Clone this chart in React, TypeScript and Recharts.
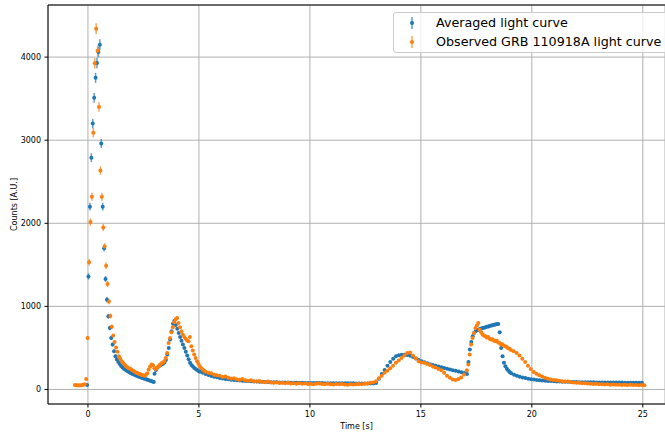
import { ScatterChart, Scatter, XAxis, YAxis, CartesianGrid, ErrorBar, ReferenceLine } from "recharts";

type Segment = { start: number; step: number; counts: number[]; err?: number[] };

// averaged light curve (time bins of 64 ms / 128 ms)
const avgPulse1 = [
  55, 1360, 2200, 2790, 3200, 3510, 3750, 3930, 4060, 4150, 2960, 2200, 1700, 1330, 1080, 880, 740, 620, 540, 460,
  400, 360, 330, 305, 283, 265, 250, 238, 226, 215, 205, 196, 187, 179, 171, 164, 157, 150, 144, 138,
  132, 126, 120, 114, 108, 102, 96, 90,
];
const avgPulse1Err = [8, 37, 47, 53, 57, 59, 61, 63, 64, 64, 54, 47, 41, 36, 33, 30, 27, 25, 23, 21, 20];
const avgPulse2 = [
  190, 235, 262, 280, 292, 300, 310, 325, 355, 420, 500, 600, 700, 790, 828, 775, 730, 680, 630, 585,
  540, 500, 455, 410, 365, 320, 295, 275, 258, 245, 233, 222,
];
const avgTail2 = [
  214, 200, 185, 173, 163, 154, 146, 139, 133, 127, 122, 118, 114, 111, 108, 105, 103, 101, 99, 97,
  95, 93, 92, 90, 89, 88, 87, 86, 85, 84, 83, 83, 82, 81, 81, 80, 80, 79, 79, 78,
  78, 77, 77, 77, 76, 76, 76, 75, 75, 75, 75, 74, 74, 74, 74, 73, 73, 73, 73, 72, 72, 72,
];
const avgPulse3 = [
  78, 130, 185, 235, 285, 330, 370, 400, 413, 418, 418, 415, 405, 390, 372, 355, 340, 327, 315, 304,
  294, 285, 275, 266, 257, 248, 240, 232, 224, 216, 208, 198, 185,
];
const avgPulse4 = [
  330, 480, 570, 640, 680, 700, 712, 720, 727, 733, 739, 744, 749, 754, 759, 764, 769, 774, 779, 783,
  787, 789, 690, 500, 400, 320, 280, 250, 228, 210,
];
const avgTail4 = [
  195, 178, 165, 154, 145, 137, 130, 124, 119, 115, 111, 108, 105, 103, 101, 99, 97, 96, 94, 93,
  92, 91, 90, 89, 88, 88, 87, 87, 86, 86, 85, 85, 85, 84, 84, 84, 83, 83, 83, 83,
  82, 82, 82, 82, 82, 81, 81,
];

// observed GRB 110918A light curve
const obsPulse1 = [
  55, 52, 50, 48, 52, 50, 57, 62, 125, 620, 1530, 2015, 2320, 3090, 3925, 4340, 4075, 3400, 2635, 2320,
  1950, 1720, 1490, 1270, 1060, 885, 755, 650, 570, 505, 455, 400, 370, 340, 318, 300, 280, 268, 255, 250,
  238, 225, 215, 205, 198, 190, 185, 175, 170, 165, 175, 195, 240, 275, 300, 290, 255, 245, 265, 280,
  300, 315, 325, 340, 380, 440, 560, 620, 690, 750, 810, 845, 860, 800, 750, 700, 660, 630, 610, 590,
  580, 630, 520, 470, 420, 380, 340, 305, 280, 255, 240, 225,
];
const obsPulse1Err = [
  7, 7, 7, 7, 7, 7, 8, 8, 11, 25, 39, 45, 48, 56, 63, 66, 64, 58, 51, 48, 44, 41, 39, 36, 33, 30, 27,
];
const obsTail1 = [
  212, 200, 195, 178, 170, 165, 150, 155, 140, 132, 135, 122, 118, 125, 110, 105, 112, 100, 95, 102,
  90, 88, 95, 85, 82, 88, 78, 80, 75, 82, 72, 76, 70, 74, 68, 72, 66, 70, 64, 68,
  72, 65, 62, 68, 64, 60, 66, 62, 65, 60, 58, 64, 60, 62, 66, 64, 70, 72, 80, 85,
];
const obsPulse3 = [
  100, 135, 165, 200, 225, 255, 285, 320, 350, 380, 410, 440, 445, 410, 375, 340, 325, 320, 305, 295,
  275, 265, 245, 230, 200, 165, 140, 120, 115, 125, 145, 180, 230,
];
const obsPulse4 = [
  300, 420, 540, 620, 680, 740, 770, 800, 720, 690, 660, 650, 640, 625, 630, 610, 600, 605, 590, 580,
  585, 565, 560, 540, 545, 525, 520, 510, 495, 490,
];
const obsTail4 = [
  475, 460, 440, 410, 370, 330, 285, 245, 210, 190, 170, 155, 140, 130, 120, 115, 112, 105, 100, 95,
  96, 90, 85, 82, 80, 76, 75, 72, 70, 66, 68, 64, 62, 60, 63, 58, 60, 56, 58, 55,
  57, 54, 56, 53, 55, 52, 54, 50,
];

const averagedSegments: Segment[] = [
  { start: -0.04, step: 0.064, counts: avgPulse1, err: avgPulse1Err },
  { start: 3.0, step: 0.064, counts: avgPulse2 },
  { start: 5.048, step: 0.128, counts: avgTail2 },
  { start: 12.984, step: 0.128, counts: avgPulse3 },
  { start: 17.144, step: 0.064, counts: avgPulse4 },
  { start: 19.07, step: 0.128, counts: avgTail4 },
];

const observedSegments: Segment[] = [
  { start: -0.59, step: 0.064, counts: obsPulse1, err: obsPulse1Err },
  { start: 5.298, step: 0.128, counts: obsTail1 },
  { start: 12.978, step: 0.128, counts: obsPulse3 },
  { start: 17.138, step: 0.064, counts: obsPulse4 },
  { start: 19.058, step: 0.128, counts: obsTail4 },
];

const xTicks = [0, 5, 10, 15, 20, 25];
const yTicks = [0, 1000, 2000, 3000, 4000];

const BLUE = "#1f77b4";
const ORANGE = "#ff7f0e";
const FONT = "DejaVu Sans";
const Y_MAX = 4627;

function toPoints(segments: Segment[]) {
  const pts: { t: number; counts: number; err: number }[] = [];
  segments.forEach((s) => {
    s.counts.forEach((c, i) => {
      pts.push({ t: +(s.start + i * s.step).toFixed(3), counts: c, err: s.err?.[i] ?? 0 });
    });
  });
  return pts;
}

const dot = (color: string) => (p: any) => <circle cx={p.cx} cy={p.cy} r={2} fill={color} />;

function LegendMarker({ color }: { color: string }) {
  return (
    <svg width={10} height={14} style={{ display: "block" }}>
      <line x1={5} y1={1} x2={5} y2={13} stroke={color} strokeWidth={1.5} strokeOpacity={0.7} />
      <circle cx={5} cy={7} r={2} fill={color} />
    </svg>
  );
}

export default function App() {
  const averaged = toPoints(averagedSegments);
  const observed = toPoints(observedSegments);
  const tickStyle = { fontSize: 8, fill: "#000", fontFamily: FONT };

  return (
    <div style={{ position: "absolute", left: 0, top: 0, width: 665, height: 432, background: "#fff", fontFamily: FONT }}>
      <ScatterChart width={665} height={432} margin={{ top: 5, right: 0, bottom: 0, left: 0 }}>
        <CartesianGrid stroke="#b0b0b0" strokeWidth={1} />
        <XAxis
          type="number"
          dataKey="t"
          domain={[-1.8, 26]}
          ticks={xTicks}
          allowDataOverflow
          height={28}
          tickSize={3.5}
          tickMargin={3.5}
          tick={tickStyle}
          stroke="#000"
          label={{ value: "Time [s]", position: "insideBottom", offset: 3, style: { fontSize: 8, fill: "#000", fontFamily: FONT } }}
        />
        <YAxis
          type="number"
          dataKey="counts"
          domain={[-175, Y_MAX]}
          ticks={yTicks}
          allowDataOverflow
          width={48}
          tickSize={3.5}
          tickMargin={3.5}
          tick={tickStyle}
          stroke="#000"
          label={{
            value: "Counts [A.U.]",
            angle: -90,
            position: "insideLeft",
            offset: 14,
            style: { fontSize: 8, fill: "#000", fontFamily: FONT, textAnchor: "middle" },
          }}
        />
        <ReferenceLine y={Y_MAX} stroke="#000" strokeWidth={1} />
        <Scatter name="Averaged light curve" data={averaged} shape={dot(BLUE)} isAnimationActive={false}>
          <ErrorBar dataKey="err" direction="y" width={0} stroke={BLUE} strokeWidth={1.5} strokeOpacity={0.7} />
        </Scatter>
        <Scatter name="Observed GRB 110918A light curve" data={observed} shape={dot(ORANGE)} isAnimationActive={false}>
          <ErrorBar dataKey="err" direction="y" width={0} stroke={ORANGE} strokeWidth={1.5} strokeOpacity={0.7} />
        </Scatter>
      </ScatterChart>
      <div
        style={{
          position: "absolute",
          left: 393,
          top: 12,
          width: 290,
          height: 41,
          boxSizing: "border-box",
          border: "1px solid #cccccc",
          borderRadius: 3,
          background: "rgba(255,255,255,0.8)",
          fontSize: 12.7,
          color: "#000",
        }}
      >
        {[
          { label: "Averaged light curve", color: BLUE, top: 3 },
          { label: "Observed GRB 110918A light curve", color: ORANGE, top: 22 },
        ].map((item) => (
          <div key={item.label} style={{ position: "absolute", left: 13, top: item.top, height: 14, display: "flex", alignItems: "center", whiteSpace: "nowrap" }}>
            <LegendMarker color={item.color} />
            <span style={{ marginLeft: 19, lineHeight: "14px" }}>{item.label}</span>
          </div>
        ))}
      </div>
    </div>
  );
}
